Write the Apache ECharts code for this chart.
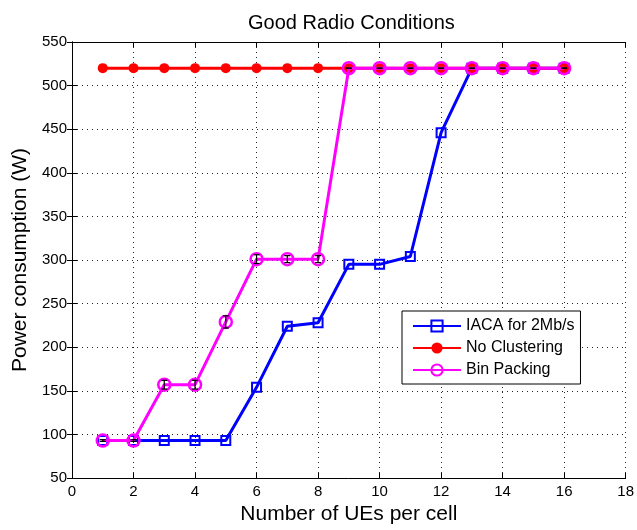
<!DOCTYPE html>
<html>
<head>
<meta charset="utf-8">
<script src="https://cdn.jsdelivr.net/npm/echarts@6/dist/echarts.min.js"></script>
<style>
  html, body { margin: 0; padding: 0; background: #fff; }
  #chart { width: 637px; height: 530px; }
</style>
</head>
<body>
<div id="chart"></div>
<script>
// Number of UEs per cell
var ues = [1, 2, 3, 4, 5, 6, 7, 8, 9, 10, 11, 12, 13, 14, 15, 16];
// Power consumption (W)
var iaca = [93, 93, 93, 93, 93, 154, 224, 228, 295, 295, 304, 446, 520, 520, 520, 520];
var noClustering = [520, 520, 520, 520, 520, 520, 520, 520, 520, 520, 520, 520, 520, 520, 520, 520];
var binPacking = [93, 93, 157, 157, 229, 301, 301, 301, 520, 520, 520, 520, 520, 520, 520, 520];
// Half-width of the Bin Packing error bars (W)
var binPackingErr = [1, 1, 5, 5, 7, 5, 4, 4, 0, 0, 0, 0, 0, 0, 0, 0];

var xTicks = { min: 0, max: 18, interval: 2 };
var yTicks = { min: 50, max: 550, interval: 50 };

var FONT = '"Liberation Sans", Arial, sans-serif';

function pairs(ys) {
  return ues.map(function (x, i) { return [x, ys[i]]; });
}

var errData = ues.map(function (x, i) {
  return [x, binPacking[i] - binPackingErr[i], binPacking[i] + binPackingErr[i]];
});

var gridLine = { show: true, lineStyle: { color: '#222', type: [1, 4], width: 1 } };
var tickIn = { show: true, inside: true, length: 5, lineStyle: { color: '#000' } };
var axisLine = { show: true, lineStyle: { color: '#000', width: 1 } };

var chart = echarts.init(document.getElementById('chart'), null, { renderer: 'canvas' });

chart.setOption({
  backgroundColor: '#fff',
  animation: false,
  title: {
    text: 'Good Radio Conditions',
    left: 243, top: 8,
    textStyle: { fontFamily: FONT, fontSize: 20, fontWeight: 'normal', color: '#000' }
  },
  legend: {
    left: 402, top: 311,
    orient: 'vertical',
    padding: [7, 6, 6, 10],
    itemWidth: 48, itemHeight: 14, itemGap: 6,
    borderColor: '#000', borderWidth: 1, backgroundColor: '#fff',
    textStyle: { fontFamily: FONT, fontSize: 16, color: '#000' },
    data: ['IACA for 2Mb/s', 'No Clustering', 'Bin Packing']
  },
  grid: { left: 72, right: 8, top: 42, bottom: 52, containLabel: false },
  xAxis: [{
    type: 'value', min: xTicks.min, max: xTicks.max, interval: xTicks.interval,
    name: 'Number of UEs per cell', nameLocation: 'middle', nameGap: 23,
    nameTextStyle: { fontFamily: FONT, fontSize: 21, color: '#000' },
    axisLine: axisLine, axisTick: tickIn, splitLine: gridLine,
    axisLabel: { fontFamily: FONT, fontSize: 15, color: '#000', margin: 6 }
  }, {
    type: 'value', position: 'top', min: xTicks.min, max: xTicks.max, interval: xTicks.interval,
    axisLine: axisLine, axisTick: tickIn, splitLine: { show: false }, axisLabel: { show: false }
  }],
  yAxis: [{
    type: 'value', min: yTicks.min, max: yTicks.max, interval: yTicks.interval,
    name: 'Power consumption (W)', nameLocation: 'middle', nameGap: 39,
    nameTextStyle: { fontFamily: FONT, fontSize: 21, color: '#000' },
    axisLine: axisLine, axisTick: tickIn, splitLine: gridLine,
    axisLabel: { fontFamily: FONT, fontSize: 15, color: '#000', margin: 5 }
  }, {
    type: 'value', position: 'right', min: yTicks.min, max: yTicks.max, interval: yTicks.interval,
    axisLine: axisLine, axisTick: tickIn, splitLine: { show: false }, axisLabel: { show: false }
  }],
  series: [{
    name: 'IACA for 2Mb/s',
    type: 'line',
    data: pairs(iaca),
    symbol: 'rect', symbolSize: 9,
    lineStyle: { color: '#0000ff', width: 3 },
    itemStyle: { color: 'rgba(255,255,255,0)', borderColor: '#0000ff', borderWidth: 2 },
    z: 2
  }, {
    name: 'No Clustering',
    type: 'line',
    data: pairs(noClustering),
    symbol: 'circle', symbolSize: 10,
    lineStyle: { color: '#ff0000', width: 3 },
    itemStyle: { color: '#ff0000', borderColor: '#ff0000', borderWidth: 0 },
    z: 3
  }, {
    name: 'Bin Packing',
    type: 'line',
    data: pairs(binPacking),
    symbol: 'circle', symbolSize: 12,
    lineStyle: { color: '#ff00ff', width: 3 },
    itemStyle: { color: 'rgba(255,255,255,0)', borderColor: '#ff00ff', borderWidth: 2.5 },
    z: 4
  }, {
    name: 'Bin Packing error',
    type: 'custom',
    data: errData,
    z: 5,
    silent: true,
    renderItem: function (params, api) {
      var x = api.value(0);
      var lo = api.coord([x, api.value(1)]);
      var hi = api.coord([x, api.value(2)]);
      var w = 3;
      var st = { stroke: '#000', lineWidth: 1.2 };
      return {
        type: 'group',
        children: [
          { type: 'line', shape: { x1: lo[0], y1: lo[1], x2: hi[0], y2: hi[1] }, style: st },
          { type: 'line', shape: { x1: lo[0] - w, y1: lo[1], x2: lo[0] + w, y2: lo[1] }, style: st },
          { type: 'line', shape: { x1: hi[0] - w, y1: hi[1], x2: hi[0] + w, y2: hi[1] }, style: st }
        ]
      };
    }
  }]
});
</script>
</body>
</html>
